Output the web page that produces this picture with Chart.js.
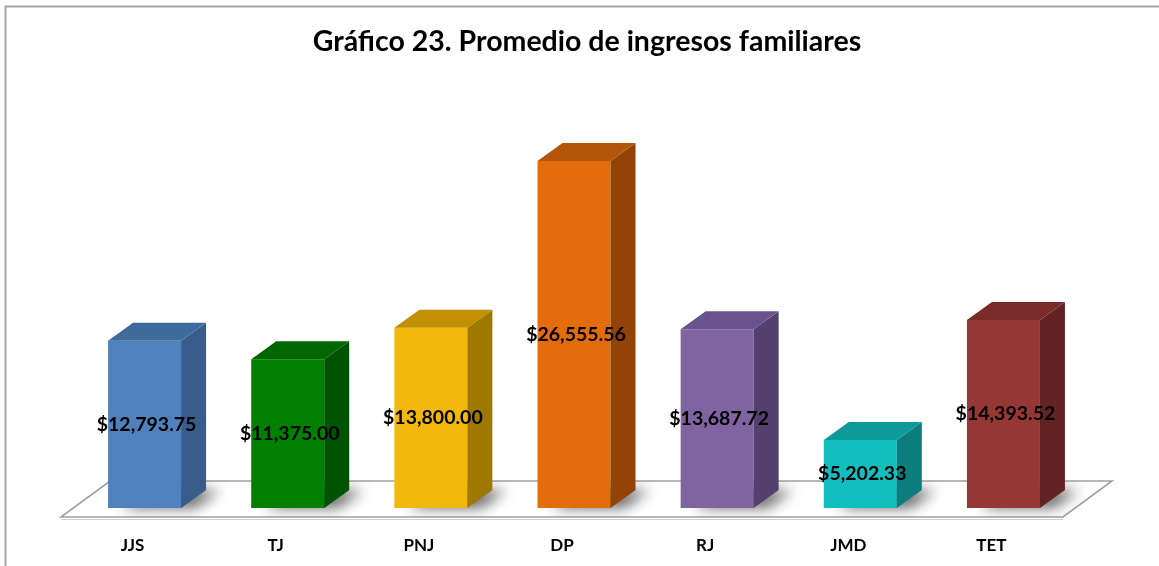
<!DOCTYPE html>
<html>
<head>
<meta charset="utf-8">
<script src="https://cdn.jsdelivr.net/npm/chart.js@4.4.0/dist/chart.umd.min.js"></script>
<style>
  html, body { margin: 0; padding: 0; background: #fff; }
  #wrap { width: 1159px; height: 566px; position: relative; }
</style>
</head>
<body>
<div id="wrap"><canvas id="c" width="1159" height="566"></canvas></div>
<script>
// data
const categories = ['JJS', 'TJ', 'PNJ', 'DP', 'RJ', 'JMD', 'TET'];
const ingresos = [12793.75, 11375.00, 13800.00, 26555.56, 13687.72, 5202.33, 14393.52];
const titulo = 'Gráfico 23. Promedio de ingresos familiares';

// bar colours: front, side and top face
const frontColors = ['#4F81BD', '#008000', '#F2B80C', '#E46C0A', '#8064A2', '#12BEBE', '#953735'];
const sideColors  = ['#385D8A', '#005300', '#9E7800', '#934306', '#54406E', '#0C7E7E', '#622423'];
const topColors   = ['#3F6A9C', '#006600', '#C09000', '#B3560A', '#6A5290', '#0F9A9A', '#7A2B29'];

const DX = 25, DY = -18;   // depth of a bar

function money(v) {
  return '$' + v.toLocaleString('en-US', { minimumFractionDigits: 2, maximumFractionDigits: 2 });
}

// white background, grey frame like the Excel chart area, and the title
const framePlugin = {
  id: 'frame',
  beforeDraw(chart) {
    const ctx = chart.ctx;
    ctx.save();
    ctx.fillStyle = '#fff';
    ctx.fillRect(0, 0, chart.width, chart.height);
    ctx.strokeStyle = '#A6A6A6';
    ctx.lineWidth = 2;
    ctx.beginPath();
    ctx.moveTo(5.5, chart.height);
    ctx.lineTo(5.5, 6.5);
    ctx.lineTo(chart.width, 6.5);
    ctx.stroke();

    // title sits a bit right of the plot centre in the original
    ctx.fillStyle = '#000';
    ctx.font = 'bold 28.5px Lato';
    ctx.textAlign = 'center';
    ctx.textBaseline = 'middle';
    ctx.fillText(titulo, 587, 42);
    ctx.restore();
  }
};

// floor of the 3d plot and the soft shadows of the bars
const floorPlugin = {
  id: 'floor',
  beforeDatasetsDraw(chart) {
    const ctx = chart.ctx;
    const x = chart.scales.x, y = chart.scales.y;
    const base = y.getPixelForValue(0);
    const fl = [
      [x.left - 12, base + 9],
      [x.right - 12, base + 9],
      [x.right + 37, base - 27],
      [x.left + 37, base - 27]
    ];
    ctx.save();
    // small thickness line under the front edge
    ctx.strokeStyle = '#D0D0D0';
    ctx.lineWidth = 1;
    ctx.beginPath();
    ctx.moveTo(fl[0][0], fl[0][1] + 2.5);
    ctx.lineTo(fl[1][0], fl[1][1] + 2.5);
    ctx.stroke();

    ctx.beginPath();
    fl.forEach((p, i) => i ? ctx.lineTo(p[0], p[1]) : ctx.moveTo(p[0], p[1]));
    ctx.closePath();
    ctx.fillStyle = '#fff';
    ctx.fill();
    ctx.strokeStyle = '#A0A0A0';
    ctx.lineWidth = 1.6;
    ctx.stroke();

    ctx.clip();
    const meta = chart.getDatasetMeta(0);
    meta.data.forEach(bar => {
      const l = bar.x - bar.width / 2, r = bar.x + bar.width / 2;
      ctx.save();
      ctx.shadowColor = 'rgba(0,0,0,0.6)';
      ctx.shadowBlur = 14;
      ctx.shadowOffsetX = 14;
      ctx.shadowOffsetY = 0;
      ctx.fillStyle = '#888';
      ctx.beginPath();
      ctx.moveTo(l, bar.base);
      ctx.lineTo(r, bar.base);
      ctx.lineTo(r + DX, bar.base + DY);
      ctx.lineTo(l + DX, bar.base + DY);
      ctx.closePath();
      ctx.fill();
      ctx.restore();
    });
    ctx.restore();
  }
};

// side and top faces, then the value labels
const boxPlugin = {
  id: 'box3d',
  afterDatasetsDraw(chart) {
    const ctx = chart.ctx;
    const meta = chart.getDatasetMeta(0);
    ctx.save();
    meta.data.forEach((bar, i) => {
      const l = bar.x - bar.width / 2, r = bar.x + bar.width / 2;
      const t = bar.y, b = bar.base;
      // side
      ctx.fillStyle = sideColors[i];
      ctx.beginPath();
      ctx.moveTo(r, b);
      ctx.lineTo(r + DX, b + DY);
      ctx.lineTo(r + DX, t + DY);
      ctx.lineTo(r, t);
      ctx.closePath();
      ctx.fill();
      // top
      ctx.fillStyle = topColors[i];
      ctx.beginPath();
      ctx.moveTo(l, t);
      ctx.lineTo(r, t);
      ctx.lineTo(r + DX, t + DY);
      ctx.lineTo(l + DX, t + DY);
      ctx.closePath();
      ctx.fill();
    });

    ctx.fillStyle = '#000';
    ctx.font = 'bold 19.5px Lato';
    ctx.textAlign = 'center';
    ctx.textBaseline = 'middle';
    meta.data.forEach((bar, i) => {
      ctx.fillText(money(ingresos[i]), bar.x + 2, (bar.y + bar.base) / 2);
    });
    ctx.restore();
  }
};

new Chart(document.getElementById('c'), {
  type: 'bar',
  data: {
    labels: categories,
    datasets: [{
      label: titulo,
      data: ingresos,
      backgroundColor: frontColors,
      borderWidth: 0,
      barPercentage: 0.51,
      categoryPercentage: 1.0
    }]
  },
  options: {
    responsive: false,
    animation: false,
    layout: { padding: { left: 73, right: 84, top: 116, bottom: 0 } },
    plugins: {
      legend: { display: false },
      tooltip: { enabled: false },
      title: { display: false }
    },
    scales: {
      x: {
        grid: { display: false, drawTicks: false },
        border: { display: false },
        ticks: {
          color: '#000',
          font: { family: 'Lato', size: 17, weight: 'bold' },
          padding: 27,
          labelOffset: -12
        },
        afterFit(scale) { scale.height = 58; }
      },
      y: {
        display: false,
        min: 0,
        max: 30000
      }
    }
  },
  plugins: [framePlugin, floorPlugin, boxPlugin]
});
</script>
</body>
</html>
